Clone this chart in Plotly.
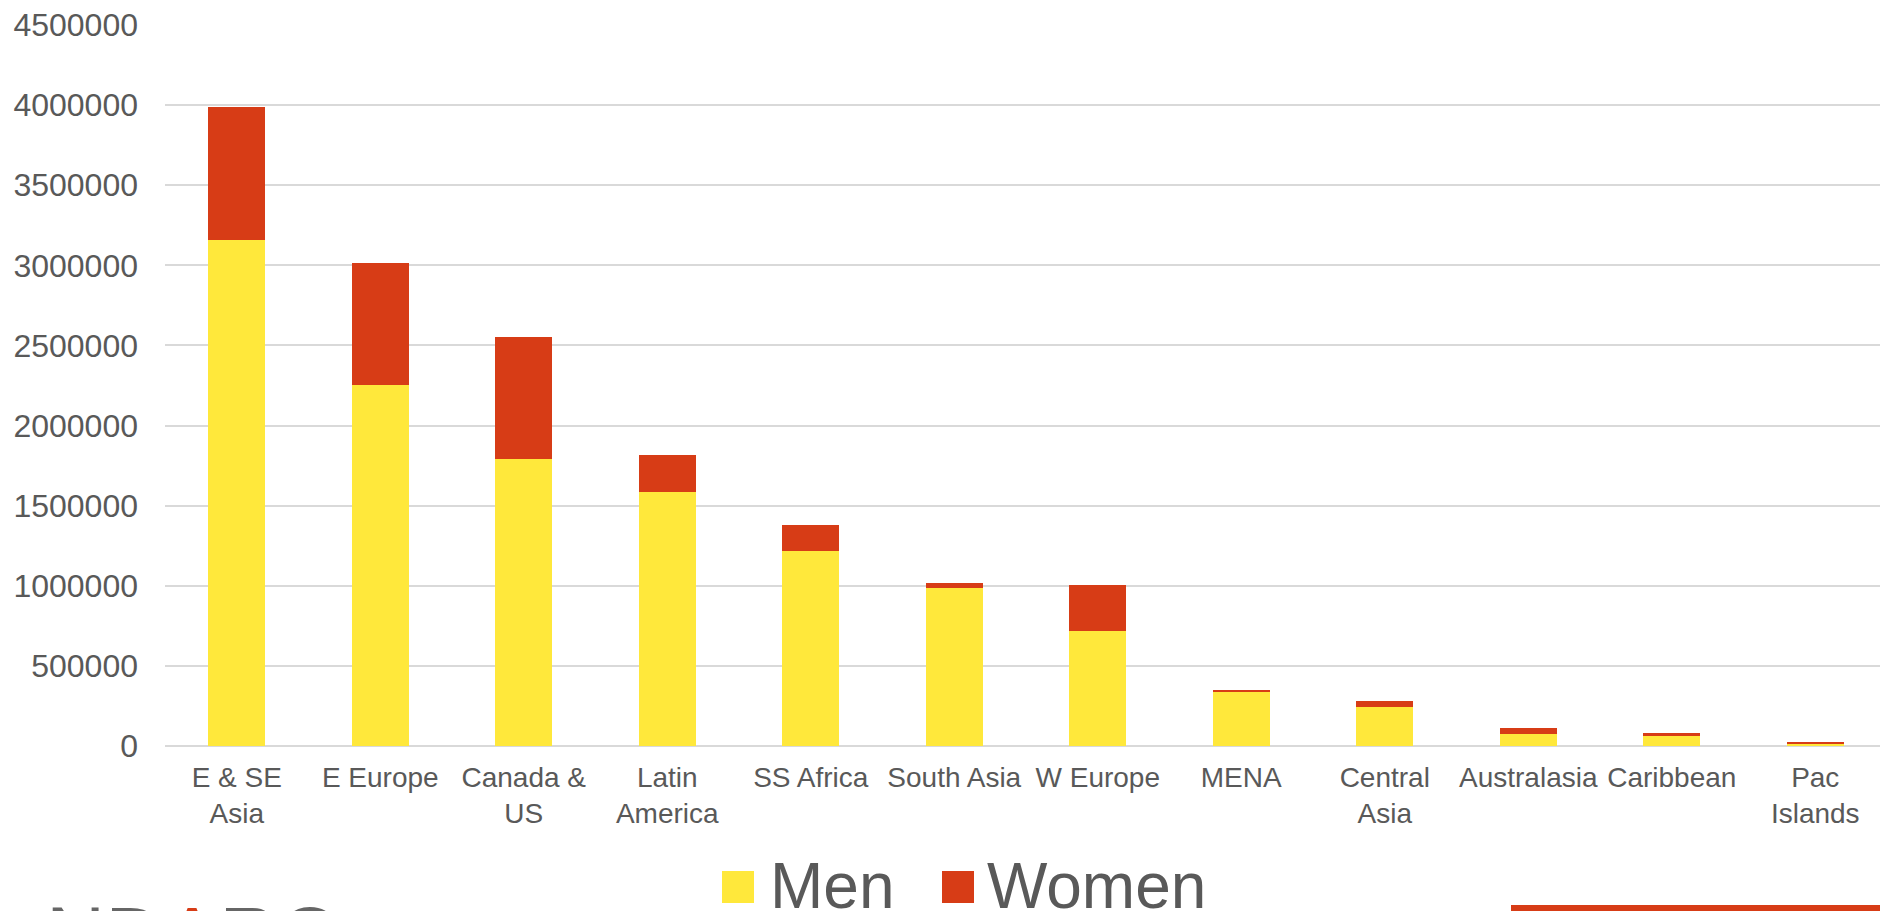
import plotly.graph_objects as go

# Regions ordered by total population
regions = ["E & SE Asia", "E Europe", "Canada & US", "Latin America", "SS Africa",
           "South Asia", "W Europe", "MENA", "Central Asia", "Australasia",
           "Caribbean", "Pac Islands"]
region_labels = ["E & SE<br>Asia", "E Europe", "Canada &<br>US", "Latin<br>America",
                 "SS Africa", "South Asia", "W Europe", "MENA", "Central<br>Asia",
                 "Australasia", "Caribbean", "Pac<br>Islands"]
men = [3160000, 2253000, 1789000, 1587000, 1220000, 988000, 719000,
       335000, 242000, 75000, 62000, 12500]
women = [826000, 763000, 763000, 232000, 157000, 30000, 285000,
         13000, 37000, 36000, 17000, 9000]

y_ticks = list(range(0, 4500001, 500000))

YELLOW = "#FFE83B"
RED = "#D73C16"
GREY = "#595959"
GRID = "#D9D9D9"
FONT = "Liberation Sans, Arial, sans-serif"

W, H = 1880, 911
ML, MT, MB = 165, 25, 165
PW, PH = W - ML, H - MT - MB


def px(x):
    return (x - ML) / PW


def py(y):
    return (H - MB - y) / PH


xs = list(range(len(regions)))

fig = go.Figure()
fig.add_trace(go.Bar(x=xs, y=men, name="Men", marker=dict(color=YELLOW, line=dict(width=0)),
                     width=0.4, showlegend=False))
fig.add_trace(go.Bar(x=xs, y=women, name="Women", marker=dict(color=RED, line=dict(width=0)),
                     width=0.4, showlegend=False))

fig.update_layout(
    barmode="stack",
    width=W, height=H,
    margin=dict(l=ML, r=0, t=MT, b=MB, autoexpand=False),
    paper_bgcolor="white", plot_bgcolor="white",
    font=dict(family=FONT, color=GREY),
)
fig.update_xaxes(
    tickmode="array", tickvals=xs, ticktext=region_labels,
    range=[-0.5, (W - ML) / 143.5 - 0.5],
    tickfont=dict(size=28, color=GREY, family=FONT),
    showgrid=False, showline=False, zeroline=False, ticks="",
    ticklabelstandoff=12,
)
fig.update_yaxes(
    range=[0, 4500000], tickmode="array", tickvals=y_ticks,
    ticktext=[str(v) for v in y_ticks],
    tickfont=dict(size=32, color=GREY, family=FONT),
    showgrid=True, gridcolor=GRID, gridwidth=1.5,
    zeroline=True, zerolinecolor=GRID, zerolinewidth=1.5,
    showline=False, ticks="", ticklabelstandoff=26,
)

# Legend keys drawn at a large size
legend_items = [("Men", YELLOW, 722, 754, 773), ("Women", RED, 942, 974, 990)]
for label, color, x0, x1, tx in legend_items:
    fig.add_shape(type="rect", xref="paper", yref="paper",
                  x0=px(x0), x1=px(x1), y0=py(903), y1=py(871),
                  fillcolor=color, line=dict(width=0))
    fig.add_annotation(text=label, xref="paper", yref="paper",
                       x=px(tx - 5), y=py(886), xanchor="left", yanchor="middle",
                       showarrow=False, font=dict(size=64, color=GREY, family=FONT))

# Footer logo and band
fig.add_annotation(text='ND<span style="color:#D73C16">A</span>RC', xref="paper", yref="paper",
                   x=px(44), y=py(888), xanchor="left", yanchor="top", showarrow=False,
                   font=dict(size=82, color="#666666", family=FONT))
fig.add_shape(type="rect", xref="paper", yref="paper",
              x0=px(1511), x1=px(1880), y0=py(911), y1=py(905),
              fillcolor=RED, line=dict(width=0))

fig.write_html("out.html")
